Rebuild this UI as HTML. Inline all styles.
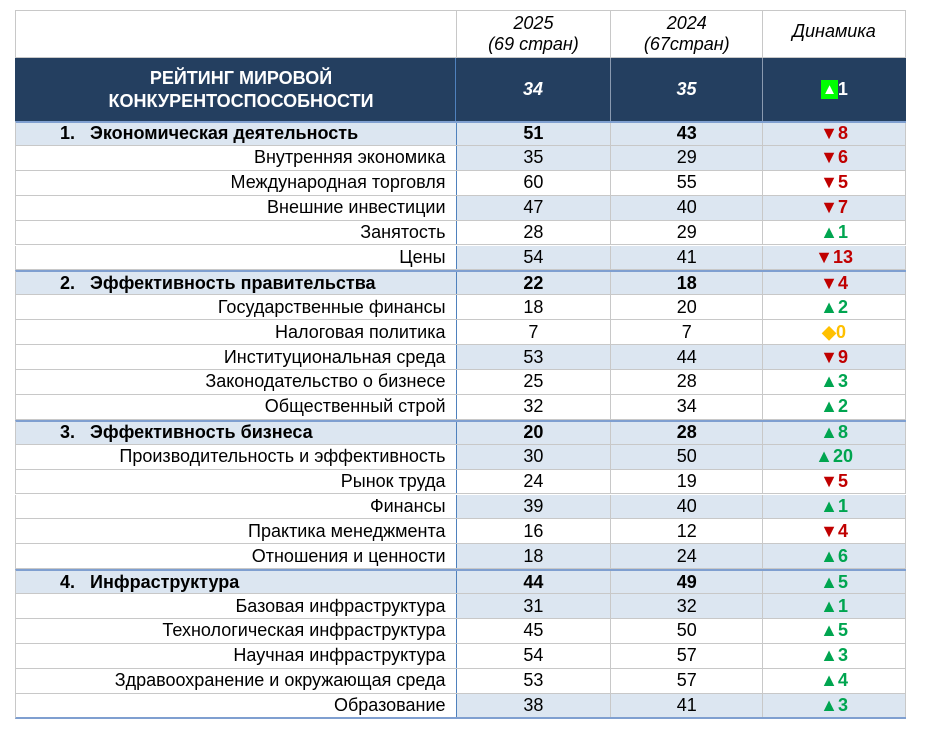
<!DOCTYPE html>
<html><head><meta charset="utf-8"><style>
body{margin:0;width:925px;height:732px;background:#fff;font-family:"Liberation Sans",Arial,sans-serif;position:relative;overflow:hidden}
.r{position:absolute;left:15px;width:891px;display:flex;box-sizing:border-box;border-bottom:1px solid #c8c8c8}
.c{box-sizing:border-box;display:flex;align-items:center;justify-content:center;font-size:18px;color:#000;border-right:1px solid #c8c8c8;white-space:nowrap}
.c0{width:441px;justify-content:flex-end;padding-right:10px;border-right:1.5px solid #4f81bd}
.c1{width:155px}.c2{width:152px}.c3{width:143px;border-right:1px solid #c8c8c8;font-weight:bold}
.sh{background:#dce6f1}
.sec{background:#dce6f1;border-top:2px solid #7f9fd0;font-weight:bold}
.sec .c0{justify-content:flex-start;padding-left:44px}
.sec .c{font-weight:bold}
.dn{color:#c00000}.up{color:#00a550}.eq{color:#ffc000}
</style></head><body>
<div class="r" style="top:10px;height:48px;border-top:1px solid #c8c8c8;border-left:1px solid #c8c8c8">
<div class="c c0" style="border-right:1px solid #c8c8c8"></div>
<div class="c c1" style="flex-direction:column;font-style:italic;line-height:21px">2025<span>(69 стран)</span></div>
<div class="c c2" style="flex-direction:column;font-style:italic;line-height:21px">2024<span>(67стран)</span></div>
<div class="c c3" style="font-style:italic;font-weight:normal;align-items:flex-start;padding-top:10px">Динамика</div>
</div>
<div class="r" style="top:58px;height:63px;background:#243f60;border-bottom:none">
<div class="c c0" style="justify-content:center;flex-direction:column;color:#fff;font-weight:bold;text-align:center;line-height:23px;padding:0 0 0 12px"><span>РЕЙТИНГ МИРОВОЙ</span><span>КОНКУРЕНТОСПОСОБНОСТИ</span></div>
<div class="c c1" style="color:#fff;font-style:italic;font-weight:bold;border-color:#8a9ab0">34</div>
<div class="c c2" style="color:#fff;font-style:italic;font-weight:bold;border-color:#8a9ab0">35</div>
<div class="c c3" style="color:#fff;border:none"><span style="background:#00ff00;color:#fff;padding:0 1px;font-size:15px;line-height:19px">▲</span>1</div>
</div>
<div id="rows"></div>
<script>
(function(){
const d=[
["s","1.&nbsp;&nbsp;&nbsp;Экономическая деятельность",51,43,"d8"],
["h","Внутренняя экономика",35,29,"d6"],
["n","Международная торговля",60,55,"d5"],
["h","Внешние инвестиции",47,40,"d7"],
["n","Занятость",28,29,"u1"],
["h","Цены",54,41,"d13"],
["s","2.&nbsp;&nbsp;&nbsp;Эффективность правительства",22,18,"d4"],
["n","Государственные финансы",18,20,"u2"],
["n","Налоговая политика",7,7,"e0"],
["h","Институциональная среда",53,44,"d9"],
["n","Законодательство о бизнесе",25,28,"u3"],
["n","Общественный строй",32,34,"u2"],
["s","3.&nbsp;&nbsp;&nbsp;Эффективность бизнеса",20,28,"u8"],
["h","Производительность и эффективность",30,50,"u20"],
["n","Рынок труда",24,19,"d5"],
["h","Финансы",39,40,"u1"],
["n","Практика менеджмента",16,12,"d4"],
["h","Отношения и ценности",18,24,"u6"],
["s","4.&nbsp;&nbsp;&nbsp;Инфраструктура",44,49,"u5"],
["h","Базовая инфраструктура",31,32,"u1"],
["n","Технологическая инфраструктура",45,50,"u5"],
["n","Научная инфраструктура",54,57,"u3"],
["n","Здравоохранение и окружающая среда",53,57,"u4"],
["h","Образование",38,41,"u3"]];
var h="",y0=121,H=24.9;
d.forEach(function(r,i){
 var t=r[4][0],v=r[4].slice(1);
 var dyn=t=="d"?'<span class="dn">▼'+v+'</span>':t=="u"?'<span class="up">▲'+v+'</span>':'<span class="eq">◆'+v+'</span>';
 var cls=r[0]=="s"?"r sec":"r";var sh=r[0]=="h"?" sh":"";
 var last=i==d.length-1?"border-bottom:2px solid #7f9fd0;":"";
 h+='<div class="'+cls+'" style="top:'+(y0+i*H).toFixed(1)+'px;height:'+H.toFixed(1)+'px;border-left:1px solid #c8c8c8;'+last+'">'+
 '<div class="c c0">'+r[1]+'</div><div class="c c1'+sh+'">'+r[2]+'</div><div class="c c2'+sh+'">'+r[3]+'</div><div class="c c3'+sh+'">'+dyn+'</div></div>';
});
document.getElementById("rows").innerHTML=h;
})();
</script>
</body></html>
